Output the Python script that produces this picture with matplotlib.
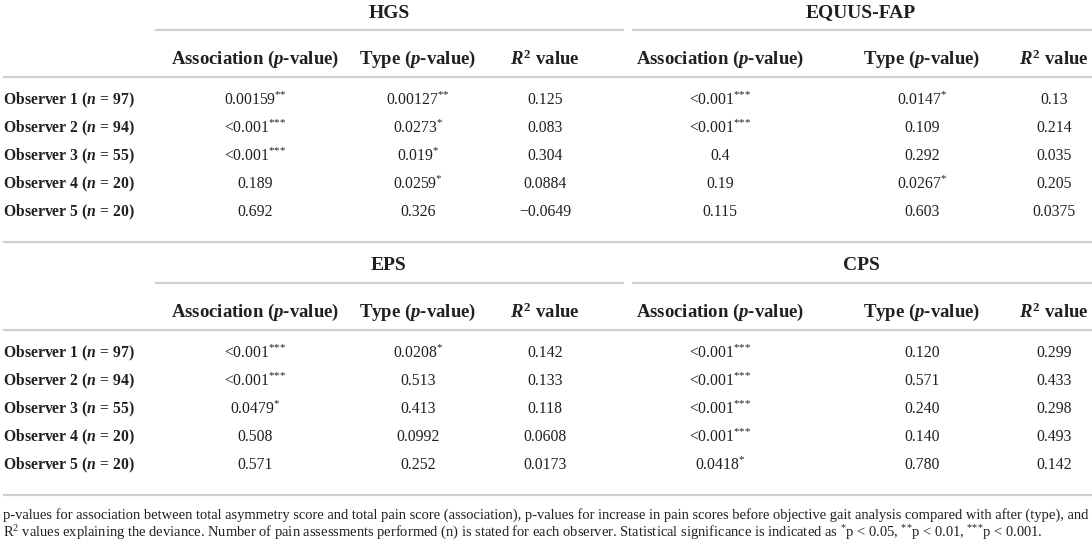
import matplotlib
matplotlib.use("Agg")
import matplotlib.pyplot as plt

plt.rcParams["font.family"] = ["Liberation Serif", "DejaVu Serif"]
plt.rcParams["mathtext.fontset"] = "custom"
plt.rcParams["mathtext.rm"] = "Liberation Serif"
plt.rcParams["mathtext.it"] = "Liberation Serif:italic:bold"
plt.rcParams["mathtext.bf"] = "Liberation Serif:bold"

# table content
observers = ["Observer 1", "Observer 2", "Observer 3", "Observer 4", "Observer 5"]
n_values = [97, 94, 55, 20, 20]
col_headers = ["Association ($p$-value)", "Type ($p$-value)", "$R^\\mathbf{2}$ value"]

hgs_assoc = ["0.00159**", "<0.001***", "<0.001***", "0.189", "0.692"]
hgs_type = ["0.00127**", "0.0273*", "0.019*", "0.0259*", "0.326"]
hgs_r2 = ["0.125", "0.083", "0.304", "0.0884", "\u22120.0649"]

equus_assoc = ["<0.001***", "<0.001***", "0.4", "0.19", "0.115"]
equus_type = ["0.0147*", "0.109", "0.292", "0.0267*", "0.603"]
equus_r2 = ["0.13", "0.214", "0.035", "0.205", "0.0375"]

eps_assoc = ["<0.001***", "<0.001***", "0.0479*", "0.508", "0.571"]
eps_type = ["0.0208*", "0.513", "0.413", "0.0992", "0.252"]
eps_r2 = ["0.142", "0.133", "0.118", "0.0608", "0.0173"]

cps_assoc = ["<0.001***", "<0.001***", "<0.001***", "<0.001***", "0.0418*"]
cps_type = ["0.120", "0.571", "0.240", "0.140", "0.780"]
cps_r2 = ["0.299", "0.433", "0.298", "0.493", "0.142"]

blocks = [
    (("HGS", [hgs_assoc, hgs_type, hgs_r2]), ("EQUUS-FAP", [equus_assoc, equus_type, equus_r2])),
    (("EPS", [eps_assoc, eps_type, eps_r2]), ("CPS", [cps_assoc, cps_type, cps_r2])),
]


def stars(k):
    # braces keep mathtext from spacing the asterisks like operators
    return "$^{" + "{*}" * k + "}$"


footnote = [
    "p-values for association between total asymmetry score and total pain score (association), "
    "p-values for increase in pain scores before objective gait analysis compared with after (type), and",
    "R$^2$ values explaining the deviance. Number of pain assessments performed (n) is stated for each "
    "observer. Statistical significance is indicated as " + stars(1) + "p < 0.05, " + stars(2)
    + "p < 0.01, " + stars(3) + "p < 0.001.",
]

# layout (pixels)
W, H = 1092, 546
txt = "#231f20"
rule = "#cfcfcf"
group_cols = [[255, 418, 545], [720, 922, 1054]]
group_lines = [(155, 624), (632, 1092)]
group_title_x = [389, 861]
block_top = [0, 253]


def fmt_value(s):
    k = len(s) - len(s.rstrip("*"))
    if k == 0:
        return s
    return s.rstrip("*") + stars(k)


fig = plt.figure(figsize=(W / 100, H / 100), dpi=100)
ax = fig.add_axes([0, 0, 1, 1])
ax.set_xlim(0, W)
ax.set_ylim(H, 0)
ax.axis("off")

for b, (left, right) in enumerate(blocks):
    y0 = block_top[b]
    for g, (title, cols) in enumerate([left, right]):
        ax.text(group_title_x[g], y0 + 13, title, ha="center", va="center",
                fontsize=14, fontweight="bold", color=txt)
        x1, x2 = group_lines[g]
        ax.plot([x1, x2], [y0 + 29.5, y0 + 29.5], color=rule, lw=1.6, solid_capstyle="butt")
        for c, head in enumerate(col_headers):
            ax.text(group_cols[g][c], y0 + 59, head, ha="center", va="center",
                    fontsize=13.5, fontweight="bold", color=txt)
        for c, vals in enumerate(cols):
            for r, v in enumerate(vals):
                ax.text(group_cols[g][c], y0 + 100 + 28 * r, fmt_value(v), ha="center",
                        va="center", fontsize=11.3, color=txt)
    ax.plot([3, W], [y0 + 77, y0 + 77], color=rule, lw=1.6, solid_capstyle="butt")
    for r, (obs, n) in enumerate(zip(observers, n_values)):
        ax.text(3, y0 + 100 + 28 * r, obs + " ($n$ = %d)" % n, ha="left", va="center",
                fontsize=11.3, fontweight="bold", color=txt)
    ax.plot([3, W], [y0 + 242, y0 + 242], color=rule, lw=1.6, solid_capstyle="butt")

# footnote, first line fitted to the table width
fn = []
for i, line in enumerate(footnote):
    fn.append(ax.text(3, 515 + 18 * i, line, ha="left", va="center", fontsize=11, color=txt))
fig.canvas.draw()
rend = fig.canvas.get_renderer()
w0 = fn[0].get_window_extent(rend).width
scale = (1088 - 3) / w0
for t in fn:
    t.set_fontsize(11 * scale)

fig.savefig("out.png", dpi=100, facecolor="white")
